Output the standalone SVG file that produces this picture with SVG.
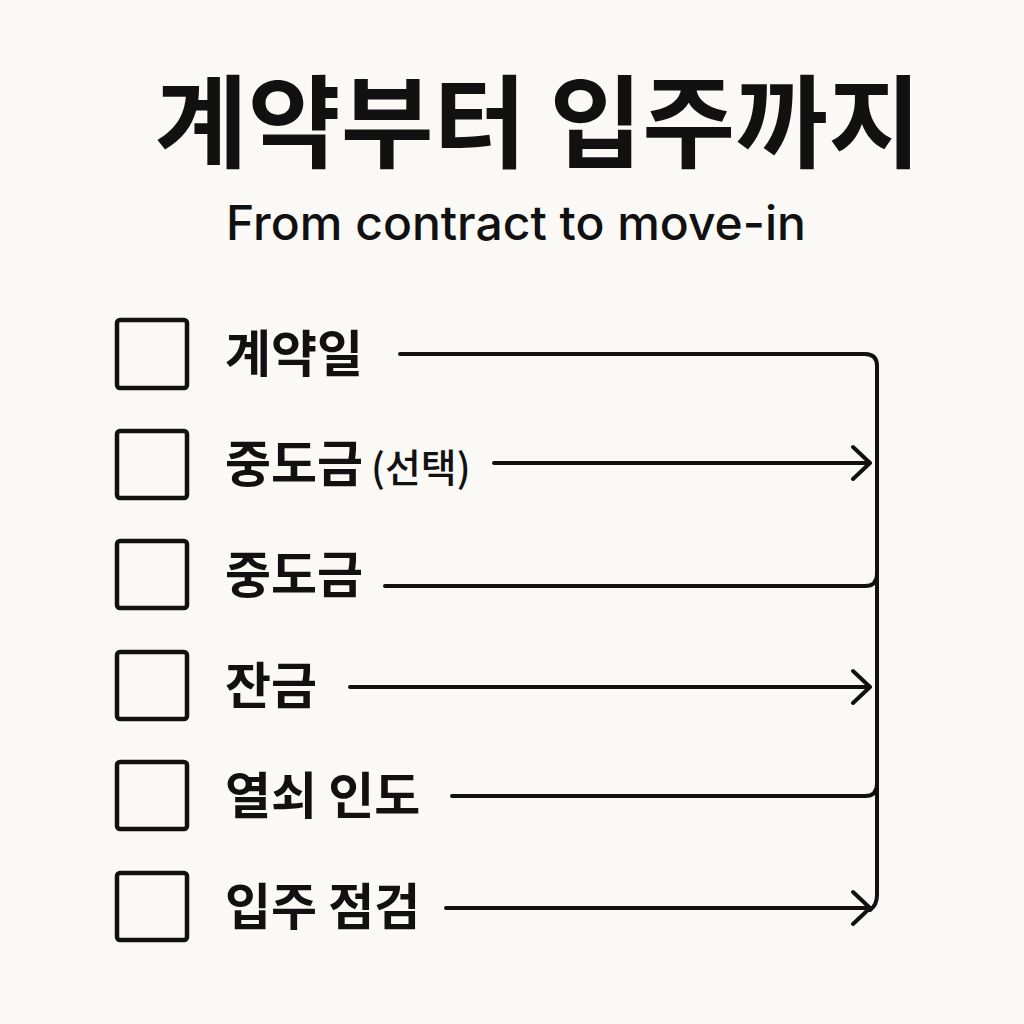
<svg xmlns="http://www.w3.org/2000/svg" width="1024" height="1024" viewBox="0 0 1024 1024">
<style>
.box{fill:none;stroke:#111;stroke-width:4.5}
.lbl{font-family:"Noto Sans CJK KR","Noto Sans",sans-serif;font-weight:700;font-size:50px;fill:#111}
.sm{font-size:39px;font-weight:500}
.ln{fill:none;stroke:#111;stroke-width:4;stroke-linecap:round;stroke-linejoin:round}
</style>
<rect width="1024" height="1024" fill="#faf9f5"/>
<text x="538" y="160" text-anchor="middle" font-family="Noto Sans CJK KR, sans-serif" font-weight="700" font-size="101" fill="#111">계약부터 입주까지</text>
<text x="516" y="240" text-anchor="middle" font-family="Inter, 'Noto Sans', sans-serif" font-weight="500" font-size="48" fill="#111">From contract to move-in</text>
<g id="n1"><rect class="box" x="117" y="320" width="70" height="68" rx="3"/><text class="lbl" x="225" y="372">계약일</text></g>
<g id="n2"><rect class="box" x="117" y="431" width="70" height="67" rx="3"/><text class="lbl" x="225" y="482">중도금<tspan class="sm" dx="8">(선택)</tspan></text></g>
<g id="n3"><rect class="box" x="117" y="541" width="70" height="67" rx="3"/><text class="lbl" x="225" y="593">중도금</text></g>
<g id="n4"><rect class="box" x="117" y="652" width="70" height="67" rx="3"/><text class="lbl" x="225" y="704">잔금</text></g>
<g id="n5"><rect class="box" x="117" y="762" width="70" height="67" rx="3"/><text class="lbl" x="225" y="814">열쇠 인도</text></g>
<g id="n6"><rect class="box" x="117" y="873" width="70" height="67" rx="3"/><text class="lbl" x="225" y="925">입주 점검</text></g>
<g id="connectors">
<path class="ln" d="M400 354 H865 Q877 354 877 366 V895 Q877 905 870 910"/>
<path class="ln" d="M385 586 H865 Q877 586 877 574"/>
<path class="ln" d="M452 796 H865 Q877 796 877 784"/>
<path class="ln" d="M494 463 H870 M853 447 L870 463 L853 479"/>
<path class="ln" d="M350 687 H870 M853 671 L870 687 L853 703"/>
<path class="ln" d="M446 908 H870 M853 892 L870 908 L853 924"/>
</g>
</svg>
